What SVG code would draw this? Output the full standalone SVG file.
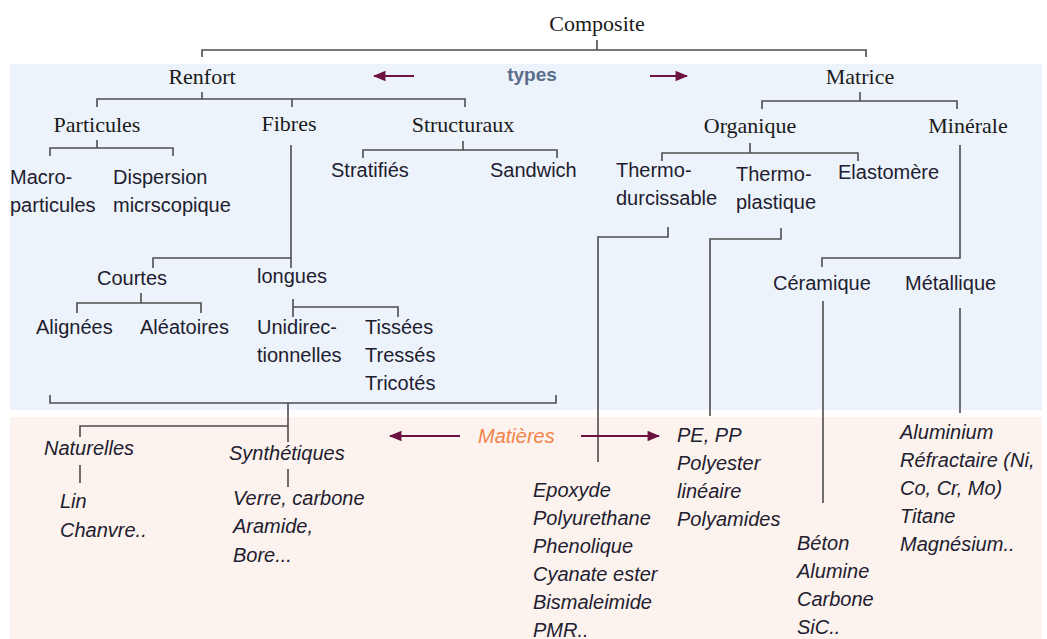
<svg xmlns="http://www.w3.org/2000/svg" width="1047" height="639" viewBox="0 0 1047 639">
<style>
.serif{font-family:"Liberation Serif","Times New Roman",serif;font-size:22px;fill:#1a1a1a}
.sans{font-family:"Liberation Sans",Arial,sans-serif;font-size:20px;fill:#1e2030}
.it{font-family:"Liberation Sans",Arial,sans-serif;font-size:20px;font-style:italic;fill:#1e2030}
.mid{text-anchor:middle}
.ln{fill:none;stroke:#4d4d4d;stroke-width:1.6}
.arr{fill:none;stroke:#6b1240;stroke-width:2}
</style>
<defs>
<marker id="ah" viewBox="0 0 12 10" refX="11" refY="5" markerWidth="6.5" markerHeight="5.2" orient="auto" markerUnits="strokeWidth">
<path d="M0,0 L12,5 L0,10 z" fill="#6b1240"/>
</marker>
</defs>
<rect x="10" y="64" width="1032" height="346" fill="#edf3fa"/>
<rect x="10" y="417" width="1032" height="222" fill="#fdf3ee"/>
<g id="connectors">
<path class="ln" d="M597,40V50M202,57V50H866V57"/>
<path class="ln" d="M202,92V99M97,107V99H465V107M292,99V107"/>
<path class="ln" d="M860,92V101M762,109V101H957V109"/>
<path class="ln" d="M97,140V148M50,156V148H173V156"/>
<path class="ln" d="M463,141V150M363,158V150H557V158"/>
<path class="ln" d="M750,143V153M662,161V153H858V161"/>
<path class="ln" d="M291,145V268M153,268V258H291"/>
<path class="ln" d="M141,293V303M77,313V303H201V313"/>
<path class="ln" d="M293,299V317M293,307H398V317"/>
<path class="ln" d="M668,227V237H598V462"/>
<path class="ln" d="M781,228V239H710V416"/>
<path class="ln" d="M960,145V258H822V267"/>
<path class="ln" d="M823,301V503"/>
<path class="ln" d="M960,308V413"/>
<path class="ln" d="M50,395V403H556V395M288,403V442M80,437V426H288"/>
<path class="ln" d="M80,465V483M288,469V487"/>
<path class="arr" d="M414,76H374" marker-end="url(#ah)"/>
<path class="arr" d="M650,76H687" marker-end="url(#ah)"/>
<path class="arr" d="M460,436H390" marker-end="url(#ah)"/>
<path class="arr" d="M581,436H659" marker-end="url(#ah)"/>
</g>
<g id="composite"><text class="serif mid" x="597" y="31">Composite</text></g>
<g id="types"><text x="532" y="81" text-anchor="middle" font-family="Liberation Sans,Arial,sans-serif" font-size="19" font-weight="bold" fill="#5a6d8a">types</text></g>
<g id="renfort"><text class="serif mid" x="202" y="84">Renfort</text></g>
<g id="matrice"><text class="serif mid" x="860" y="84">Matrice</text></g>
<g id="particules"><text class="serif mid" x="97" y="132">Particules</text></g>
<g id="fibres"><text class="serif mid" x="289" y="131">Fibres</text></g>
<g id="structuraux"><text class="serif mid" x="463" y="132">Structuraux</text></g>
<g id="organique"><text class="serif mid" x="750" y="133">Organique</text></g>
<g id="minerale"><text class="serif mid" x="968" y="133">Minérale</text></g>
<g id="macro"><text class="sans" x="10" y="184">Macro-</text><text class="sans" x="10" y="212">particules</text></g>
<g id="dispersion"><text class="sans" x="113" y="184">Dispersion</text><text class="sans" x="113" y="212">micrscopique</text></g>
<g id="stratifies"><text class="sans" x="331" y="177">Stratifiés</text></g>
<g id="sandwich"><text class="sans" x="490" y="177">Sandwich</text></g>
<g id="thermodur"><text class="sans" x="616" y="177">Thermo-</text><text class="sans" x="616" y="205">durcissable</text></g>
<g id="thermoplast"><text class="sans" x="736" y="181">Thermo-</text><text class="sans" x="736" y="209">plastique</text></g>
<g id="elastomere"><text class="sans" x="838" y="179">Elastomère</text></g>
<g id="courtes"><text class="sans" x="97" y="285">Courtes</text></g>
<g id="longues"><text class="sans" x="257" y="283">longues</text></g>
<g id="alignees"><text class="sans" x="36" y="334">Alignées</text></g>
<g id="aleatoires"><text class="sans" x="140" y="334">Aléatoires</text></g>
<g id="unidirec"><text class="sans" x="257" y="334">Unidirec-</text><text class="sans" x="257" y="362">tionnelles</text></g>
<g id="tissees"><text class="sans" x="365" y="334">Tissées</text><text class="sans" x="365" y="362">Tressés</text><text class="sans" x="365" y="390">Tricotés</text></g>
<g id="ceramique"><text class="sans" x="773" y="290">Céramique</text></g>
<g id="metallique"><text class="sans" x="905" y="290">Métallique</text></g>
<g id="matieres"><text x="478" y="443" font-family="Liberation Sans,Arial,sans-serif" font-size="20" font-style="italic" fill="#f0844a">Matières</text></g>
<g id="naturelles"><text class="it" x="44" y="455">Naturelles</text></g>
<g id="synthetiques"><text class="it" x="229" y="460">Synthétiques</text></g>
<g id="lin"><text class="it" x="60" y="508">Lin</text><text class="it" x="60" y="537">Chanvre..</text></g>
<g id="verre"><text class="it" x="233" y="505">Verre, carbone</text><text class="it" x="233" y="533">Aramide,</text><text class="it" x="233" y="562">Bore...</text></g>
<g id="epoxyde"><text class="it" x="533" y="497">Epoxyde</text><text class="it" x="533" y="525">Polyurethane</text><text class="it" x="533" y="553">Phenolique</text><text class="it" x="533" y="581">Cyanate ester</text><text class="it" x="533" y="609">Bismaleimide</text><text class="it" x="533" y="637">PMR..</text></g>
<g id="pepp"><text class="it" x="677" y="442">PE, PP</text><text class="it" x="677" y="470">Polyester</text><text class="it" x="677" y="498">linéaire</text><text class="it" x="677" y="526">Polyamides</text></g>
<g id="beton"><text class="it" x="797" y="550">Béton</text><text class="it" x="797" y="578">Alumine</text><text class="it" x="797" y="606">Carbone</text><text class="it" x="797" y="634">SiC..</text></g>
<g id="aluminium"><text class="it" x="900" y="439">Aluminium</text><text class="it" x="900" y="467">Réfractaire (Ni,</text><text class="it" x="900" y="495">Co, Cr, Mo)</text><text class="it" x="900" y="523">Titane</text><text class="it" x="900" y="551">Magnésium..</text></g>
</svg>
